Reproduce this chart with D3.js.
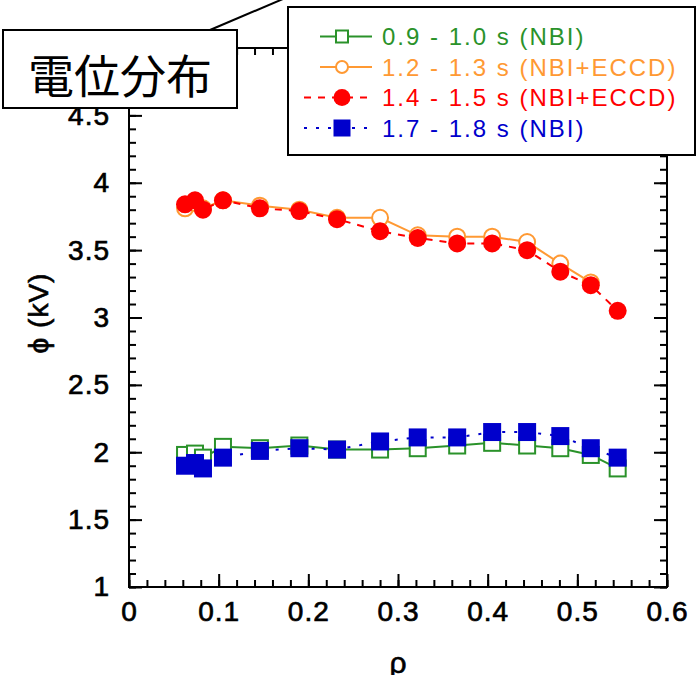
<!DOCTYPE html>
<html>
<head>
<meta charset="UTF-8">
<title>電位分布</title>
<script src="https://d3js.org/d3.v7.min.js"></script>
<style>
  body { margin: 0; background: #fff; }
  svg { display: block; }
  text { font-family: "Liberation Sans", Arial, sans-serif; }
</style>
</head>
<body>
<div class="canvas"></div>
<script>
// values
const rho = [0.0625, 0.0736, 0.0825, 0.1048, 0.146, 0.190, 0.232, 0.280, 0.322, 0.366, 0.405, 0.444, 0.481, 0.515, 0.545];
const phiNbiEarly = [1.98, 1.99, 1.96, 2.04, 2.03, 2.05, 2.02, 2.02, 2.03, 2.05, 2.07, 2.05, 2.03, 1.98, 1.88];
const phiEccdEarly = [3.81, 3.85, 3.81, 3.87, 3.83, 3.80, 3.74, 3.74, 3.61, 3.60, 3.60, 3.56, 3.40, 3.26];
const phiEccdLate = [3.84, 3.87, 3.80, 3.87, 3.81, 3.79, 3.73, 3.64, 3.59, 3.55, 3.55, 3.50, 3.34, 3.24, 3.05];
const phiNbiLate = [1.90, 1.92, 1.88, 1.96, 2.01, 2.03, 2.02, 2.08, 2.11, 2.11, 2.15, 2.15, 2.12, 2.03, 1.96];
const seriesNames = ["0.9 - 1.0 s (NBI)", "1.2 - 1.3 s (NBI+ECCD)", "1.4 - 1.5 s (NBI+ECCD)", "1.7 - 1.8 s (NBI)"];
const xTicks = [0, 0.1, 0.2, 0.3, 0.4, 0.5, 0.6];
const yTicks = [1, 1.5, 2, 2.5, 3, 3.5, 4, 4.5, 5];
const yLabelTicks = [1, 1.5, 2, 2.5, 3, 3.5, 4, 4.5]; // "5" sits under the callout box

// styles for each series
const styles = [
    { color: "#2a922a", shape: "square", filled: false, dash: null, legStart: 320 },
    { color: "#ff9933", shape: "circle", filled: false, dash: null, legStart: 320 },
    { color: "#ff0000", shape: "circle", filled: true, dash: "7,7", legStart: 304 },
    { color: "#0000cc", shape: "square", filled: true, dash: "3,9", legStart: 304 }
];
const seriesValues = [phiNbiEarly, phiEccdEarly, phiEccdLate, phiNbiLate];
const series = seriesValues.map((vals, i) => ({
    name: seriesNames[i],
    style: styles[i],
    points: vals.map((v, j) => ({ x: rho[j], y: v }))
}));

const width = 697;
const height = 675;

const svg = d3.select(".canvas")
    .append("svg")
    .attr("width", width)
    .attr("height", height);

const x = d3.scaleLinear().domain([0, 0.6]).range([129, 667]);
const y = d3.scaleLinear().domain([1, 5]).range([587, 48]);

const minorX = d3.range(0, 0.6001, 0.02);
const minorY = d3.range(1, 5.0001, 0.1);

// axes: ticks point inward
const styleAxis = g => {
    g.select(".domain").remove();
    g.selectAll(".tick line").attr("stroke", "#000").attr("stroke-width", 2);
    g.selectAll(".tick text")
        .attr("fill", "#000")
        .attr("stroke", "#000")
        .attr("stroke-width", 0.7)
        .style("font-size", "28px")
        .style("letter-spacing", "1px");
};

// minor ticks
svg.append("g").attr("transform", `translate(0,${y(1)})`)
    .call(d3.axisBottom(x).tickValues(minorX).tickSize(-7).tickFormat(""))
    .call(styleAxis);
svg.append("g").attr("transform", `translate(0,${y(5)})`)
    .call(d3.axisTop(x).tickValues(minorX).tickSize(-7).tickFormat(""))
    .call(styleAxis);
svg.append("g").attr("transform", `translate(${x(0)},0)`)
    .call(d3.axisLeft(y).tickValues(minorY).tickSize(-7).tickFormat(""))
    .call(styleAxis);
svg.append("g").attr("transform", `translate(${x(0.6)},0)`)
    .call(d3.axisRight(y).tickValues(minorY).tickSize(-7).tickFormat(""))
    .call(styleAxis);

// major ticks
svg.append("g").attr("transform", `translate(0,${y(1)})`)
    .call(d3.axisBottom(x).tickValues(xTicks).tickSize(-13).tickPadding(14).tickFormat(d3.format("")))
    .call(styleAxis);
svg.append("g").attr("transform", `translate(0,${y(5)})`)
    .call(d3.axisTop(x).tickValues(xTicks).tickSize(-13).tickFormat(""))
    .call(styleAxis);
svg.append("g").attr("transform", `translate(${x(0)},0)`)
    .call(d3.axisLeft(y).tickValues(yTicks).tickSize(-13).tickFormat(""))
    .call(styleAxis);
svg.append("g").attr("transform", `translate(${x(0)},0)`)
    .call(d3.axisLeft(y).tickValues(yLabelTicks).tickSize(0).tickPadding(19).tickFormat(d3.format("")))
    .call(styleAxis);
svg.append("g").attr("transform", `translate(${x(0.6)},0)`)
    .call(d3.axisRight(y).tickValues(yTicks).tickSize(-13).tickFormat(""))
    .call(styleAxis);

// frame
svg.append("rect")
    .attr("x", x(0)).attr("y", y(5))
    .attr("width", x(0.6) - x(0)).attr("height", y(1) - y(5))
    .attr("fill", "none").attr("stroke", "#000").attr("stroke-width", 2);

// axis titles
svg.append("text")
    .attr("transform", `translate(38,313) rotate(-90)`)
    .attr("text-anchor", "middle")
    .attr("dominant-baseline", "central")
    .attr("stroke", "#000")
    .attr("stroke-width", 0.6)
    .style("font-size", "28px")
    .style("letter-spacing", "1px")
    .text("ϕ (kV)");

svg.append("text")
    .attr("x", (x(0) + x(0.6)) / 2)
    .attr("y", 673)
    .attr("text-anchor", "middle")
    .attr("stroke", "#000")
    .attr("stroke-width", 0.6)
    .style("font-size", "30px")
    .text("ρ");

// series
const line = d3.line().x(d => x(d.x)).y(d => y(d.y));

const drawMarker = (sel, st, size) => {
    if (st.shape === "square") {
        const s = st.filled ? size : size - 2;
        sel.append("rect")
            .attr("x", -s / 2).attr("y", -s / 2)
            .attr("width", s).attr("height", s)
            .attr("fill", st.filled ? st.color : "#fff")
            .attr("stroke", st.filled ? "none" : st.color)
            .attr("stroke-width", 2);
    } else {
        const r = st.filled ? size / 2 : size / 2 - 1;
        sel.append("circle")
            .attr("r", r)
            .attr("fill", st.filled ? st.color : "#fff")
            .attr("stroke", st.filled ? "none" : st.color)
            .attr("stroke-width", 2);
    }
};

series.forEach(s => {
    const g = svg.append("g");
    g.append("path")
        .datum(s.points)
        .attr("d", line)
        .attr("fill", "none")
        .attr("stroke", s.style.color)
        .attr("stroke-width", 2)
        .attr("stroke-dasharray", s.style.dash);
    g.selectAll("g.pt")
        .data(s.points)
        .join("g")
        .attr("class", "pt")
        .attr("transform", d => `translate(${x(d.x)},${y(d.y)})`)
        .each(function () { drawMarker(d3.select(this), s.style, 18); });
});

// callout box
svg.append("line")
    .attr("x1", 210).attr("y1", 30)
    .attr("x2", 290).attr("y2", -4)
    .attr("stroke", "#000").attr("stroke-width", 2);

svg.append("rect")
    .attr("x", 3).attr("y", 30)
    .attr("width", 234).attr("height", 78)
    .attr("fill", "#fff").attr("stroke", "#000").attr("stroke-width", 2);

svg.append("text")
    .attr("x", 120).attr("y", 73)
    .attr("text-anchor", "middle")
    .attr("dominant-baseline", "central")
    .style("font-family", "'Noto Sans CJK JP', sans-serif")
    .style("font-size", "46px")
    .text("電位分布");

// legend
const legend = svg.append("g");
legend.append("rect")
    .attr("x", 288).attr("y", 7)
    .attr("width", 407).attr("height", 148)
    .attr("fill", "#fff").attr("stroke", "#000").attr("stroke-width", 2);

const rowY = i => 36.5 + i * 30.5;

series.forEach((s, i) => {
    const row = legend.append("g").attr("transform", `translate(0,${rowY(i)})`);
    row.append("line")
        .attr("x1", s.style.legStart).attr("x2", 372)
        .attr("stroke", s.style.color).attr("stroke-width", 2)
        .attr("stroke-dasharray", s.style.dash);
    const m = row.append("g").attr("transform", "translate(342,0)");
    drawMarker(m, s.style, s.style.filled ? 17 : 14);
    row.append("text")
        .attr("x", 382)
        .attr("dominant-baseline", "central")
        .attr("fill", s.style.color)
        .style("font-size", "24px")
        .style("letter-spacing", "2px")
        .text(s.name);
});
</script>
</body>
</html>
